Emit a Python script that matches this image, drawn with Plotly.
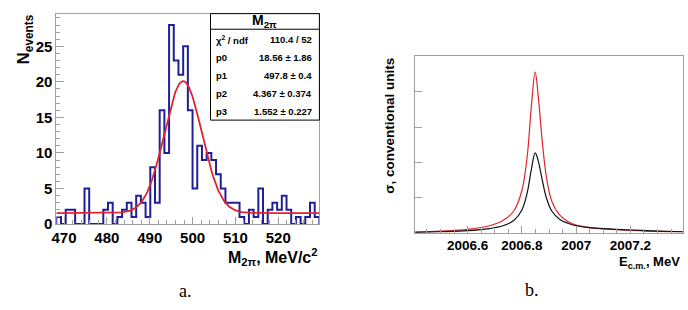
import numpy as np
import plotly.graph_objects as go

W, H = 688, 310

# ---------------- data: panel a (histogram) ----------------
hist_lo, hist_hi = 468.2, 529.6
counts = [1, 0, 2, 2, 0, 0, 5, 0, 0, 0, 2, 3, 0, 1, 2, 3, 1, 4, 3, 1,
          8, 3, 16, 10, 28, 23, 21, 25, 16, 5, 11, 9, 10, 9, 7, 5, 3, 3, 3, 1,
          0, 2, 1, 5, 0, 2, 3, 2, 4, 2, 0, 1, 0, 1, 3, 1]
# fit parameters (gaus + const) shown in the stat box
p0, p1, p2, p3 = 18.56, 497.8, 4.367, 1.552
stat_labels = ["\u03c7<sup>2</sup> / ndf", "p0", "p1", "p2", "p3"]
stat_values = ["110.4 / 52", "18.56 \u00b1 1.86", "497.8 \u00b1 0.4",
               "4.367 \u00b1 0.374", "1.552 \u00b1 0.227"]
xticks_a = [470, 480, 490, 500, 510, 520]
yticks_a = [0, 5, 10, 15, 20, 25]

# ---------------- data: panel b (cross sections) ----------------
e_red = [2006.40, 2006.50, 2006.60, 2006.68, 2006.73, 2006.77, 2006.80, 2006.82,
         2006.835, 2006.849, 2006.86, 2006.875, 2006.89, 2006.91, 2006.94, 2006.97,
         2007.00, 2007.05, 2007.10, 2007.20, 2007.30, 2007.40]
s_red = [0.02, 0.05, 0.10, 0.20, 0.35, 0.62, 1.2, 2.2,
         3.6, 4.56, 3.9, 2.6, 1.6, 0.9, 0.5, 0.32,
         0.22, 0.15, 0.11, 0.07, 0.04, 0.03]
e_blk = e_red
s_blk = [0.01, 0.03, 0.06, 0.12, 0.2, 0.35, 0.65, 1.15,
         1.8, 2.27, 2.05, 1.5, 1.0, 0.62, 0.38, 0.27,
         0.2, 0.15, 0.12, 0.08, 0.05, 0.03]
xticks_b = [2006.6, 2006.8, 2007.0, 2007.2]
xticklabels_b = ["2006.6", "2006.8", "2007", "2007.2"]

# ---------------- helpers ----------------
def px(x):
    return x / W

def py(y):
    return 1 - y / H

nb = len(counts)
bw = (hist_hi - hist_lo) / nb
edges = [hist_lo + i * bw for i in range(nb + 1)]
hx = [edges[0]] + edges
hy = [0] + counts + [0]

xf = np.linspace(hist_lo, hist_hi, 400)
yf = p0 * np.exp(-0.5 * ((xf - p1) / p2) ** 2) + p3

BLUE = "#1f1f99"
RED = "#e3232c"
FRAME = "#a0a0a0"
SANS = "Liberation Sans, Arial, Helvetica, sans-serif"

fig = go.Figure()
fig.add_trace(go.Scatter(x=hx, y=hy, mode="lines", line=dict(color=BLUE, width=2, shape="hv"),
                         xaxis="x", yaxis="y", showlegend=False))
fig.add_trace(go.Scatter(x=xf, y=yf, mode="lines", line=dict(color=RED, width=1.8),
                         xaxis="x", yaxis="y", showlegend=False))
fig.add_trace(go.Scatter(x=e_red, y=s_red, mode="lines",
                         line=dict(color=RED, width=1.2, shape="spline", smoothing=1.0),
                         xaxis="x2", yaxis="y2", showlegend=False))
fig.add_trace(go.Scatter(x=e_blk, y=s_blk, mode="lines",
                         line=dict(color="#111111", width=1.2, shape="spline", smoothing=1.0),
                         xaxis="x2", yaxis="y2", showlegend=False))

axis_common = dict(showline=True, linecolor=FRAME, linewidth=1, mirror=True,
                   showgrid=False, zeroline=False, ticks="inside", tickcolor=FRAME)

fig.update_layout(
    width=W, height=H, margin=dict(l=0, r=0, t=0, b=0),
    paper_bgcolor="white", plot_bgcolor="white",
    xaxis=dict(domain=[px(51.7), px(316.7)], range=[hist_lo, hist_hi], anchor="y",
               tickvals=xticks_a, ticklen=7,
               minor=dict(dtick=2, ticks="inside", ticklen=4, tickcolor=FRAME),
               tickfont=dict(family=SANS, size=15, color="black", weight="bold"),
               **axis_common),
    yaxis=dict(domain=[py(230), py(14)], range=[0, 29.6], anchor="x",
               tickvals=yticks_a, ticklen=8,
               minor=dict(dtick=1, ticks="inside", ticklen=4, tickcolor=FRAME),
               tickfont=dict(family=SANS, size=15, color="black", weight="bold"),
               **axis_common),
    xaxis2=dict(domain=[px(413.3), px(682.7)], range=[2006.407, 2007.393], anchor="y2",
                tickvals=xticks_b, ticktext=xticklabels_b, ticklen=7,
                minor=dict(dtick=0.05, ticks="inside", ticklen=4, tickcolor=FRAME),
                tickfont=dict(family=SANS, size=13.5, color="black", weight="bold"),
                **axis_common),
    yaxis2=dict(domain=[py(239), py(57.3)], range=[0, 5.02], anchor="x2",
                tickvals=[1, 2, 3, 4], showticklabels=False, ticklen=7,
                **axis_common),
)

ann = []
ann.append(dict(x=px(20), y=py(13), xref="paper", yref="paper", xanchor="center", yanchor="top",
                text="<b>N<sub>events</sub></b>", textangle=-90, showarrow=False,
                font=dict(family=SANS, size=17, color="black")))
ann.append(dict(x=px(317), y=py(264), xref="paper", yref="paper", xanchor="right", yanchor="middle",
                text="<b>M<sub>2\u03c0</sub>, MeV/c<sup>2</sup></b>", showarrow=False,
                font=dict(family=SANS, size=16, color="black")))
ann.append(dict(x=px(387), y=py(57), xref="paper", yref="paper", xanchor="center", yanchor="top",
                text="<b>\u03c3, conventional units</b>", textangle=-90, showarrow=False,
                font=dict(family=SANS, size=13.5, color="black")))
ann.append(dict(x=px(682), y=py(269), xref="paper", yref="paper", xanchor="right", yanchor="middle",
                text="<b>E<sub>c.m.</sub>, MeV</b>", showarrow=False,
                font=dict(family=SANS, size=13, color="black")))
ann.append(dict(x=px(182), y=py(299), xref="paper", yref="paper", xanchor="center", yanchor="middle",
                text="a.", showarrow=False, font=dict(family="Liberation Serif, Times New Roman, serif", size=18, color="black")))
ann.append(dict(x=px(531), y=py(298), xref="paper", yref="paper", xanchor="center", yanchor="middle",
                text="b.", showarrow=False, font=dict(family="Liberation Serif, Times New Roman, serif", size=18, color="black")))

bx0, bx1, by0, by1, byh = 207, 316.7, 14, 123.3, 30
shapes = [
    dict(type="rect", xref="paper", yref="paper", x0=px(bx0), x1=px(bx1), y0=py(by1), y1=py(by0),
         line=dict(color="black", width=1), fillcolor="white", layer="above"),
    dict(type="line", xref="paper", yref="paper", x0=px(bx0), x1=px(bx1), y0=py(byh), y1=py(byh),
         line=dict(color="black", width=1), layer="above"),
]
ann.append(dict(x=px((bx0 + bx1) / 2), y=py(22), xref="paper", yref="paper", xanchor="center", yanchor="middle",
                text="<b>M<sub>2\u03c0</sub></b>", showarrow=False, font=dict(family=SANS, size=14, color="black")))
row_y = [41, 59, 77.5, 96, 114]
for lab, val, ry in zip(stat_labels, stat_values, row_y):
    ann.append(dict(x=px(211), y=py(ry), xref="paper", yref="paper", xanchor="left", yanchor="middle",
                    text="<b>" + lab + "</b>", showarrow=False, font=dict(family=SANS, size=9.5, color="black")))
    ann.append(dict(x=px(311), y=py(ry), xref="paper", yref="paper", xanchor="right", yanchor="middle",
                    text="<b>" + val + "</b>", showarrow=False, font=dict(family=SANS, size=9.5, color="black")))

fig.update_layout(annotations=ann, shapes=shapes)
fig.write_html("out.html")
